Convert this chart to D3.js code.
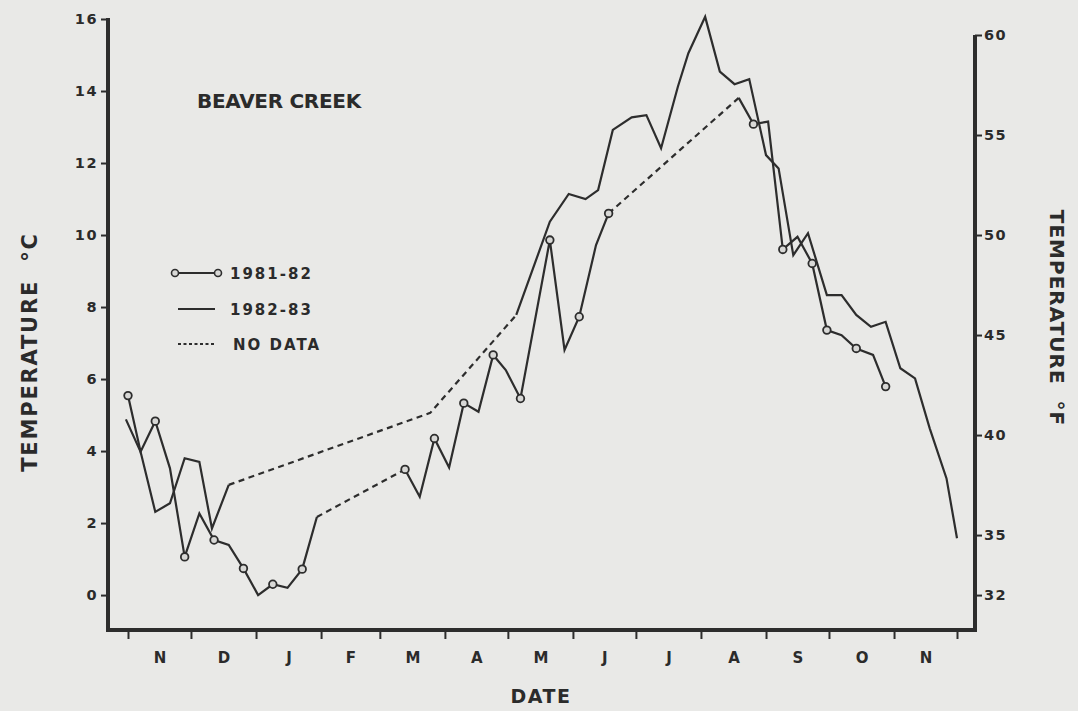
<!DOCTYPE html>
<html><head><meta charset="utf-8">
<script src="https://cdn.jsdelivr.net/npm/d3@7"></script>
<style>
html,body{margin:0;padding:0;background:#e9e9e7;}
svg{display:block;}
text{font-family:"DejaVu Sans",sans-serif;font-weight:bold;fill:#2b2b2b;}
</style></head><body>
<svg id="chart" width="1078" height="711"></svg>
<script>
// ---------- DATA ----------
const monthLabels = ["N","D","J","F","M","A","M","J","J","A","S","O","N"];
const celsiusTicks = [0,2,4,6,8,10,12,14,16];
const fahrenheitTicks = [32,35,40,45,50,55,60];
const legendLabels = ["1981-82","1982-83","NO DATA"];

const dates8182 = ["1981-11-01","1981-11-07","1981-11-14","1981-11-21","1981-11-28","1981-12-05","1981-12-12","1981-12-19","1981-12-26","1982-01-02","1982-01-09","1982-01-16","1982-01-23","1982-01-30",
  "1982-03-13","1982-03-20","1982-03-27","1982-04-03","1982-04-10","1982-04-17","1982-04-24","1982-04-30","1982-05-07","1982-05-21","1982-05-28","1982-06-04","1982-06-12","1982-06-18",
  "1982-08-19","1982-08-26","1982-09-02","1982-09-09","1982-09-16","1982-09-23","1982-09-30","1982-10-07","1982-10-14","1982-10-22","1982-10-28"];
const temps8182 = [5.54,3.98,4.83,3.52,1.06,2.27,1.53,1.39,0.74,0.00,0.30,0.20,0.72,2.17,
  3.49,2.73,4.35,3.54,5.33,5.09,6.67,6.25,5.46,9.86,6.81,7.73,9.72,10.60,
  13.81,13.08,13.15,9.60,9.95,9.21,7.36,7.22,6.85,6.67,5.79];
const circled8182 = [1,0,1,0,1,0,1,0,1,0,1,0,1,0,
  1,0,1,0,1,0,1,0,1,1,0,1,0,1,
  0,1,0,1,0,1,1,0,1,0,1];
const noDataBefore8182 = ["1982-03-13","1982-08-19"];

const dates8283 = ["1982-10-31","1982-11-07","1982-11-14","1982-11-21","1982-11-28","1982-12-05","1982-12-11","1982-12-19",
  "1983-03-25","1983-05-05","1983-05-21","1983-05-30","1983-06-07","1983-06-13","1983-06-20","1983-06-29","1983-07-06","1983-07-13","1983-07-21","1983-07-26",
  "1983-08-03","1983-08-10","1983-08-17","1983-08-24","1983-09-01","1983-09-07","1983-09-14","1983-09-21","1983-09-30","1983-10-07","1983-10-14","1983-10-21","1983-10-28",
  "1983-11-04","1983-11-11","1983-11-18","1983-11-26","1983-12-01"];
const temps8283 = [4.88,3.98,2.31,2.55,3.80,3.70,1.85,3.06,
  5.06,7.78,10.37,11.14,11.00,11.25,12.92,13.27,13.33,12.41,14.12,15.05,
  16.06,14.54,14.19,14.33,12.22,11.85,9.44,10.05,8.33,8.33,7.78,7.45,7.59,
  6.30,6.02,4.63,3.24,1.58];
const noDataBefore8283 = ["1983-03-25","1983-05-05"];

// ---------- LAYOUT ----------
const W = 1078, H = 711;
const left = 108, right = 975, bottom = 630;
const ink = "#2d2d2d";

const svg = d3.select("#chart");
svg.append("rect").attr("width", W).attr("height", H).attr("fill", "#e9e9e7");

const parse = d3.timeParse("%Y-%m-%d");
const seasonStart = new Date(1981, 10, 1), seasonEnd = new Date(1982, 11, 1);
const x = d3.scaleTime().domain([seasonStart, seasonEnd]).range([128, 957]);
const yC = d3.scaleLinear().domain([-0.97, 16]).range([bottom, 19]);
const cToF = c => c * 1.8 + 32;
const yF = d3.scaleLinear().domain([cToF(-0.97), cToF(16)]).range([bottom, 19]);

function build(dates, temps, gaps, shiftYears, circled) {
  return dates.map((d, i) => ({
    date: d3.timeYear.offset(parse(d), shiftYears),
    t: temps[i],
    circle: circled ? circled[i] === 1 : false,
    gap: gaps.includes(d)
  }));
}
function runs(pts) {
  const out = [];
  for (let i = 1; i < pts.length; i++) {
    const type = pts[i].gap ? "dash" : "solid";
    const last = out[out.length - 1];
    if (last && last.type === type) last.pts.push(pts[i]);
    else out.push({type, pts: [pts[i - 1], pts[i]]});
  }
  return out;
}
const s8182 = build(dates8182, temps8182, noDataBefore8182, 0, circled8182);
const s8283 = build(dates8283, temps8283, noDataBefore8283, -1, null);

const line = d3.line().x(d => x(d.date)).y(d => yC(d.t)).curve(d3.curveLinear);
const fontCss = sel => sel.style("font-family", '"DejaVu Sans",sans-serif').style("font-weight", "bold");

// ---------- AXES ----------
const months = d3.timeMonth.range(seasonStart, d3.timeDay.offset(seasonEnd, 1));
const gx = svg.append("g").attr("transform", `translate(0,${bottom})`)
  .call(d3.axisBottom(x).tickValues(months).tickSize(9).tickFormat(""));
gx.select(".domain").remove();
gx.selectAll(".tick line").attr("stroke", ink).attr("stroke-width", 2);

const mids = months.slice(0, -1).map((m, i) => new Date((+m + +months[i + 1]) / 2));
const gm = svg.append("g").attr("transform", `translate(0,${bottom})`)
  .call(d3.axisBottom(x).tickValues(mids).tickSize(0).tickPadding(22).tickFormat((d, i) => monthLabels[i]));
gm.select(".domain").remove();
gm.selectAll("text").attr("font-size", 15).attr("fill", ink).call(fontCss);

const gl = svg.append("g").attr("transform", `translate(${left},0)`)
  .call(d3.axisLeft(yC).tickValues(celsiusTicks).tickSize(7).tickPadding(3).tickSizeOuter(0));
gl.select(".domain").remove();
gl.selectAll(".tick line").attr("stroke", ink).attr("stroke-width", 2);
gl.selectAll("text").attr("font-size", 14.5).attr("letter-spacing", 1.5).attr("fill", ink).call(fontCss);

const gr = svg.append("g").attr("transform", `translate(${right},0)`)
  .call(d3.axisRight(yF).tickValues(fahrenheitTicks).tickSize(7).tickPadding(2).tickSizeOuter(0));
gr.select(".domain").remove();
gr.selectAll(".tick line").attr("stroke", ink).attr("stroke-width", 2);
gr.selectAll("text").attr("font-size", 14.5).attr("letter-spacing", 1.5).attr("fill", ink).call(fontCss);

// frame lines
svg.append("path")
  .attr("d", `M${left},${yC(16) - 1}V${bottom}H${right}V${yF(60)}`)
  .attr("fill", "none").attr("stroke", ink).attr("stroke-width", 4).attr("stroke-linejoin", "miter");

// ---------- SERIES ----------
const gData = svg.append("g");
[s8182, s8283].forEach(s => {
  runs(s).forEach(r => {
    gData.append("path").attr("d", line(r.pts)).attr("fill", "none")
      .attr("stroke", ink).attr("stroke-width", 2.2)
      .attr("stroke-dasharray", r.type === "dash" ? "6,4.5" : null)
      .attr("stroke-linejoin", "miter");
  });
});
gData.selectAll("circle.m").data(s8182.filter(d => d.circle)).join("circle")
  .attr("class", "m").attr("cx", d => x(d.date)).attr("cy", d => yC(d.t)).attr("r", 3.8)
  .attr("fill", "#d8d8d6").attr("stroke", ink).attr("stroke-width", 1.8);

// ---------- TITLES ----------
svg.append("text").attr("x", 197).attr("y", 108).attr("font-size", 20).attr("letter-spacing", -0.3)
  .attr("fill", ink).text("BEAVER CREEK");
svg.append("text").attr("x", 541).attr("y", 703).attr("text-anchor", "middle").attr("font-size", 19)
  .attr("letter-spacing", 1.5).attr("fill", ink).text("DATE");
svg.append("text").attr("transform", "translate(37,352) rotate(-90)").attr("text-anchor", "middle")
  .attr("font-size", 21).attr("letter-spacing", 1.8).attr("fill", ink).text("TEMPERATURE\u00a0\u00a0°C");
svg.append("text").attr("transform", "translate(1050,318) rotate(90)").attr("text-anchor", "middle")
  .attr("font-size", 20).attr("letter-spacing", 1).attr("fill", ink).text("TEMPERATURE\u00a0\u00a0°F");

// ---------- LEGEND ----------
const lg = svg.append("g");
const rows = [273, 309, 344];
lg.append("line").attr("x1", 175).attr("x2", 218).attr("y1", rows[0]).attr("y2", rows[0]).attr("stroke", ink).attr("stroke-width", 2.2);
[175, 218].forEach(cx => lg.append("circle").attr("cx", cx).attr("cy", rows[0]).attr("r", 3.5)
  .attr("fill", "#d8d8d6").attr("stroke", ink).attr("stroke-width", 1.6));
lg.append("line").attr("x1", 178).attr("x2", 215).attr("y1", rows[1]).attr("y2", rows[1]).attr("stroke", ink).attr("stroke-width", 2.2);
lg.append("line").attr("x1", 178).attr("x2", 215).attr("y1", rows[2]).attr("y2", rows[2]).attr("stroke", ink)
  .attr("stroke-width", 1.8).attr("stroke-dasharray", "3,2.5");
legendLabels.forEach((t, i) => lg.append("text").attr("x", i === 2 ? 233 : 230).attr("y", rows[i] + 5.5)
  .attr("font-size", 15).attr("letter-spacing", 2).attr("fill", ink).text(t));
</script>
</body></html>
